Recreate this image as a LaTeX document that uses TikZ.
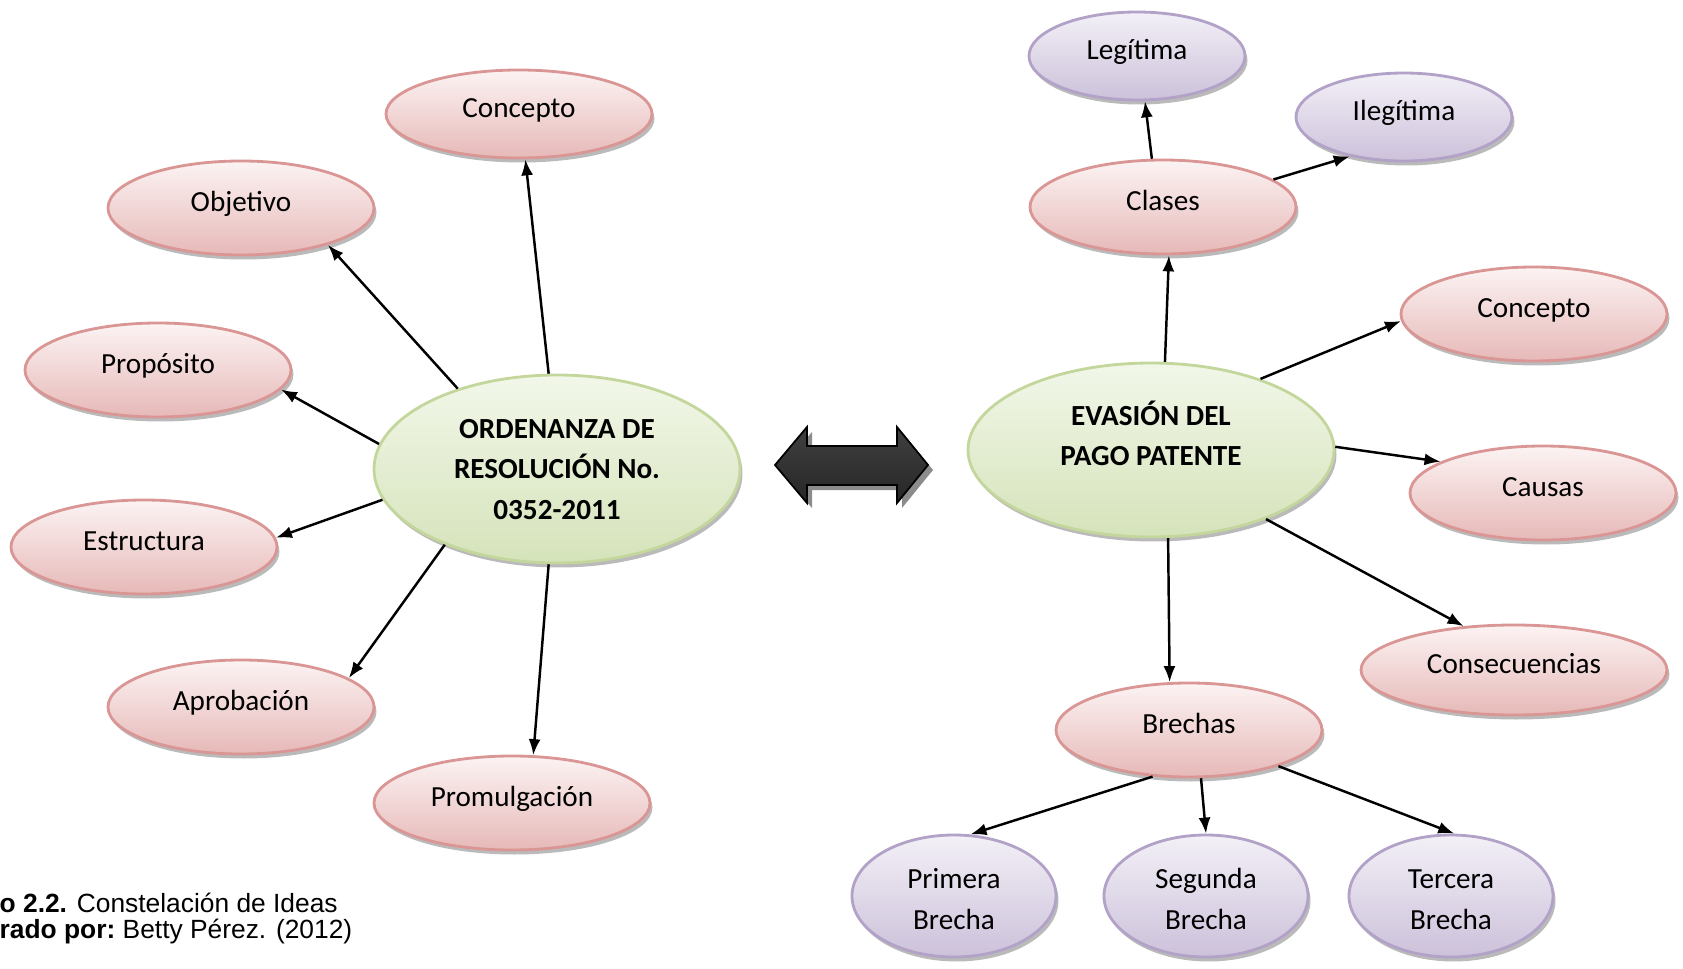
\documentclass[tikz,border=0pt]{standalone}
\usepackage{fontspec}
\setmainfont{Carlito}
\newfontfamily\capfont{Liberation Sans}
\usetikzlibrary{arrows.meta, shapes.geometric, shadows}
\definecolor{pinkline}{HTML}{D99694}
\definecolor{pinktop}{HTML}{FCF3F3}
\definecolor{pinkbot}{HTML}{E6B9B8}
\definecolor{greenline}{HTML}{C3D69B}
\definecolor{greentop}{HTML}{F2F7E9}
\definecolor{greenbot}{HTML}{D5E3BA}
\definecolor{lilaline}{HTML}{B3A2C7}
\definecolor{lilatop}{HTML}{F3F0F7}
\definecolor{lilabot}{HTML}{CCC1DA}

\begin{document}
\begin{tikzpicture}[x=0.1mm, y=0.1mm,
        idea/.style={ellipse, inner sep=0pt, align=center, line width=0.8pt,
            minimum width=26.6mm, minimum height=9.4mm,
            font=\fontsize{8.3}{11.6}\selectfont,
            drop shadow={shadow xshift=0.25mm, shadow yshift=-0.45mm, fill=black!45, opacity=0.6}},
        linea/.style={text height=6.5pt, text depth=4.5pt},
        rosa/.style={idea, linea, draw=pinkline, top color=pinktop, bottom color=pinkbot},
        verde/.style={idea, draw=greenline, top color=greentop, bottom color=greenbot,
            minimum width=36.6mm, font=\fontsize{8.3}{11.6}\selectfont\bfseries},
        lila/.style={idea, draw=lilaline, top color=lilatop, bottom color=lilabot},
        brecha/.style={lila, minimum width=20.4mm, minimum height=12.2mm},
        arrow/.style={-{Latex[length=1.6mm, width=1.2mm]}, line width=0.7pt}
    ]
    \useasboundingbox (0,0) rectangle (1683,968);

    % Ordenanza
    \node[verde, minimum height=18.8mm] (oren) at (557,499)
        {\rule{0pt}{8pt}ORDENANZA DE\\RESOLUCIÓN No.\\0352-2011\rule[-2.4pt]{0pt}{2.4pt}};
    \node[rosa, minimum height=8.8mm] (conc1) at (519,854) {Concepto};
    \node[rosa] (obj) at (241,760) {Objetivo};
    \node[rosa] (prop) at (158,598) {Propósito};
    \node[rosa] (estr) at (144,421) {Estructura};
    \node[rosa] (aprob) at (241,261) {Aprobación};
    \node[rosa, minimum width=27.6mm] (prom) at (512,165) {Promulgación};
    \draw[arrow] (oren.95) -- (conc1.-82);
    \draw[arrow] (oren.141) -- (obj.-23);
    \draw[arrow] (oren.172) -- (prop.-9);
    \draw[arrow] (oren.190) -- (estr.4);
    \draw[arrow] (oren.214.5) -- (aprob.15);
    \draw[arrow] (oren.-95) -- (prom.66);

    % Double arrow
    \fill[black!45] (780,498) -- (812,536) -- (812,517) -- (902,517) -- (902,536) -- (933,498)
        -- (902,460) -- (902,478) -- (812,478) -- (812,460) -- cycle;
    \draw[black, line width=0.5pt, top color=black!75, middle color=black, bottom color=black!85]
        (775,503) -- (807,541) -- (807,522) -- (897,522) -- (897,541) -- (928,503)
        -- (897,465) -- (897,483) -- (807,483) -- (807,465) -- cycle;

    % Evasion
    \node[verde, minimum height=17.4mm] (evas) at (1151,518)
        {\rule{0pt}{8pt}EVASIÓN DEL\\PAGO PATENTE\rule[-10.6pt]{0pt}{10.6pt}};
    \node[rosa] (clas) at (1163,761) {Clases};
    \node[lila, linea, minimum width=21.6mm, minimum height=8.8mm] (leg) at (1137,912) {Legítima};
    \node[lila, linea, minimum width=21.6mm, minimum height=8.8mm] (ileg) at (1404,851) {Ilegítima};
    \node[rosa] (conc2) at (1534,654) {Concepto};
    \node[rosa] (caus) at (1543,475) {Causas};
    \node[rosa, minimum width=30.6mm, minimum height=9mm] (cons) at (1514,298) {Consecuencias};
    \node[rosa] (brech) at (1189,238) {Brechas};
    \node[brecha] (brech1) at (954,72) {\rule{0pt}{10pt}Primera\\Brecha\rule[-2.4pt]{0pt}{2.4pt}};
    \node[brecha] (brech2) at (1206,72) {\rule{0pt}{10pt}Segunda\\Brecha\rule[-2.4pt]{0pt}{2.4pt}};
    \node[brecha] (brech3) at (1451,72) {\rule{0pt}{10pt}Tercera\\Brecha\rule[-2.4pt]{0pt}{2.4pt}};
    \draw[arrow] (evas.81.3) -- (clas.-83.5);
    \draw[arrow] (clas.103.5) -- (leg.-80);
    \draw[arrow] (clas.14) -- (ileg.-144);
    \draw[arrow] (evas.33.4) -- (conc2.-177);
    \draw[arrow] (evas.1.8) -- (caus.163);
    \draw[arrow] (evas.-31.7) -- (cons.139);
    \draw[arrow] (evas.-79) -- (brech.112);
    \draw[arrow] (brech.-128) -- (brech1.75);
    \draw[arrow] (brech.-76) -- (brech2.90);
    \draw[arrow] (brech.-22) -- (brech3.87);

    % Caption
    \node[anchor=base west, inner sep=0pt, font=\capfont\fontsize{7.5}{8.5}\selectfont] (cap1) at (-1,56)
        {\textbf{o 2.2.} Constelación de Ideas};
    \node[anchor=base west, inner sep=0pt, font=\capfont\fontsize{7.5}{8.5}\selectfont] (cap2) at (-1,30)
        {\textbf{rado por:}~Betty Pérez. (2012)};
\end{tikzpicture}
\end{document}
